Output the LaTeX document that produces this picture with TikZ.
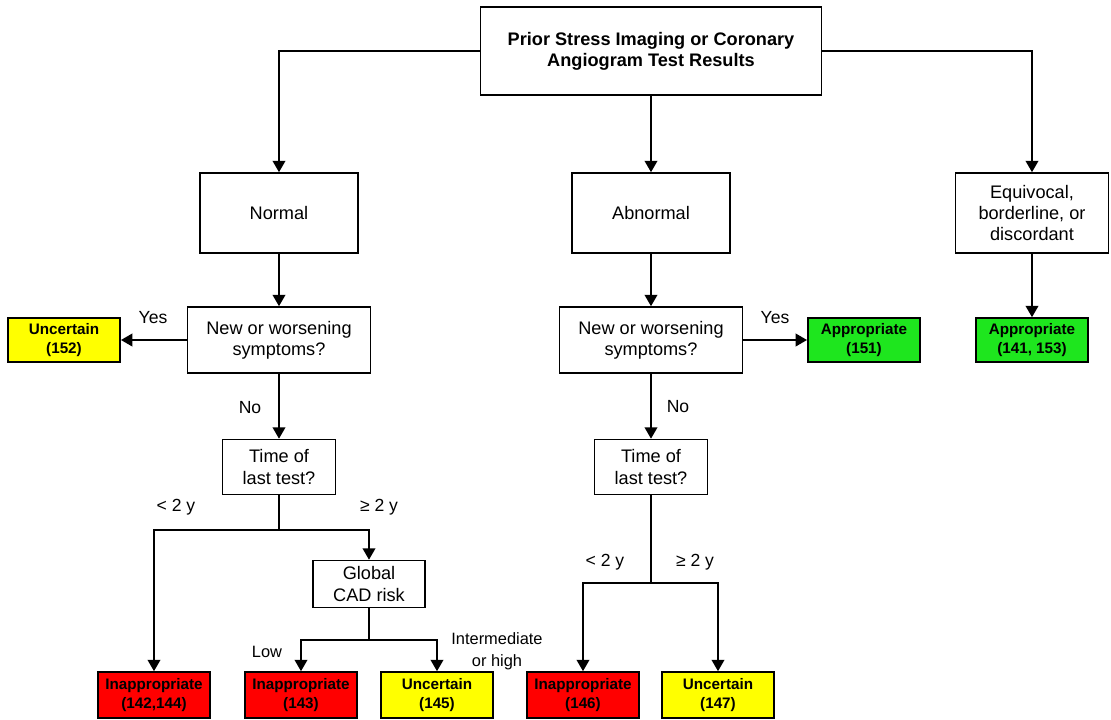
\documentclass[tikz,border=0pt]{standalone}
\usepackage{fontspec}
\setmainfont{Liberation Sans}
\usepackage{tikz}
\usetikzlibrary{positioning}
\usetikzlibrary{calc}
\usetikzlibrary{arrows.meta}
\definecolor{resRed}{RGB}{255,0,0}
\definecolor{resYellow}{RGB}{255,255,0}
\definecolor{resGreen}{RGB}{30,230,30}
\tikzstyle{box}=[draw, line width=1.4pt, inner sep=0pt, align=center, font=\fontsize{15.5}{18}\selectfont]
\tikzstyle{result}=[box, minimum width=3.37cm, font=\bfseries\fontsize{13}{16}\selectfont]
\tikzstyle{branch}=[font=\fontsize{15}{18}\selectfont]
\tikzstyle{line}=[line width=1.4pt]
\tikzstyle{arrow}=[->, >={Triangle[length=3.4mm, width=3.8mm]}, line width=1.4pt]

\begin{document}
\begin{tikzpicture}[x=0.03cm, y=-0.03cm]
      \useasboundingbox (0,0) rectangle (1111,719);

      \node[box, minimum width=10.23cm, minimum height=2.64cm, font=\bfseries\fontsize{15.5}{18}\selectfont] (top) at (651,51) {Prior Stress Imaging or Coronary\\Angiogram Test Results};
      \node[box, minimum width=4.74cm, minimum height=2.4cm] (normal) at (279,213) {Normal};
      \node[box, minimum width=4.74cm, minimum height=2.4cm] (abnormal) at (651,213) {Abnormal};
      \node[box, minimum width=4.59cm, minimum height=2.4cm] (equiv) at (1032,213) {Equivocal,\\borderline, or\\discordant};

      \node[box, minimum width=5.49cm, minimum height=1.98cm] (newL) at (279,340) {New or worsening\\symptoms?};
      \node[box, minimum width=5.49cm, minimum height=1.98cm] (newR) at (651,340) {New or worsening\\symptoms?};
      \node[result, fill=resYellow, minimum height=1.32cm] (uncL) at (64,340) {Uncertain\\(152)};
      \node[result, fill=resGreen, minimum height=1.32cm] (appA) at (864,340) {Appropriate\\(151)};
      \node[result, fill=resGreen, minimum height=1.32cm] (appB) at (1032,340) {Appropriate\\(141, 153)};

      \node[box, minimum width=3.39cm, minimum height=1.65cm] (timeL) at (279,467) {Time of\\last test?};
      \node[box, minimum width=3.39cm, minimum height=1.65cm] (timeR) at (651,467) {Time of\\last test?};
      \node[box, minimum width=3.36cm, minimum height=1.41cm] (global) at (369,584) {Global\\CAD risk};
      \coordinate (splitL) at (279,530);
      \coordinate (splitG) at (369,640);
      \coordinate (splitR) at (651,583);

      \node[result, fill=resRed, minimum height=1.38cm] (inapA) at (154,695) {Inappropriate\\(142,144)};
      \node[result, fill=resRed, minimum height=1.38cm] (inapB) at (301,695) {Inappropriate\\(143)};
      \node[result, fill=resYellow, minimum height=1.38cm] (uncB) at (437,695) {Uncertain\\(145)};
      \node[result, fill=resRed, minimum height=1.38cm] (inapC) at (583,695) {Inappropriate\\(146)};
      \node[result, fill=resYellow, minimum height=1.38cm] (uncC) at (718,695) {Uncertain\\(147)};

      \node[branch] (yesL) at (153,318) {Yes};
      \node[branch] (noL) at (250,408) {No};
      \node[branch] (yesR) at (775,318) {Yes};
      \node[branch] (noR) at (678,407) {No};
      \node[branch] (lessL) at (176,507) {< 2 y};
      \node[branch] (moreL) at (379,507) {≥ 2 y};
      \node[branch] (lessR) at (605,562) {< 2 y};
      \node[branch] (moreR) at (695,562) {≥ 2 y};
      \node[branch, font=\fontsize{14}{19}\selectfont] (low) at (267,652) {Low};
      \node[branch, align=center, font=\fontsize{14}{19}\selectfont] (inter) at (497,651) {Intermediate\\or high};

      \draw[arrow] (top.west) -| (normal);
      \draw[arrow] (top.east) -| (equiv);
      \draw[arrow] (top) -- (abnormal);

      \draw[arrow] (normal) -- (newL);
      \draw[arrow] (newL) -- (uncL);
      \draw[arrow] (newL) -- (timeL);
      \draw[line] (timeL) -- (splitL);
      \draw[arrow] (splitL) -| (inapA);
      \draw[arrow] (splitL) -| (global);
      \draw[line] (global) -- (splitG);
      \draw[arrow] (splitG) -| (inapB);
      \draw[arrow] (splitG) -| (uncB);

      \draw[arrow] (abnormal) -- (newR);
      \draw[arrow] (newR) -- (appA);
      \draw[arrow] (newR) -- (timeR);
      \draw[line] (timeR) -- (splitR);
      \draw[arrow] (splitR) -| (inapC);
      \draw[arrow] (splitR) -| (uncC);

      \draw[arrow] (equiv) -- (appB);

    \end{tikzpicture}
\end{document}
